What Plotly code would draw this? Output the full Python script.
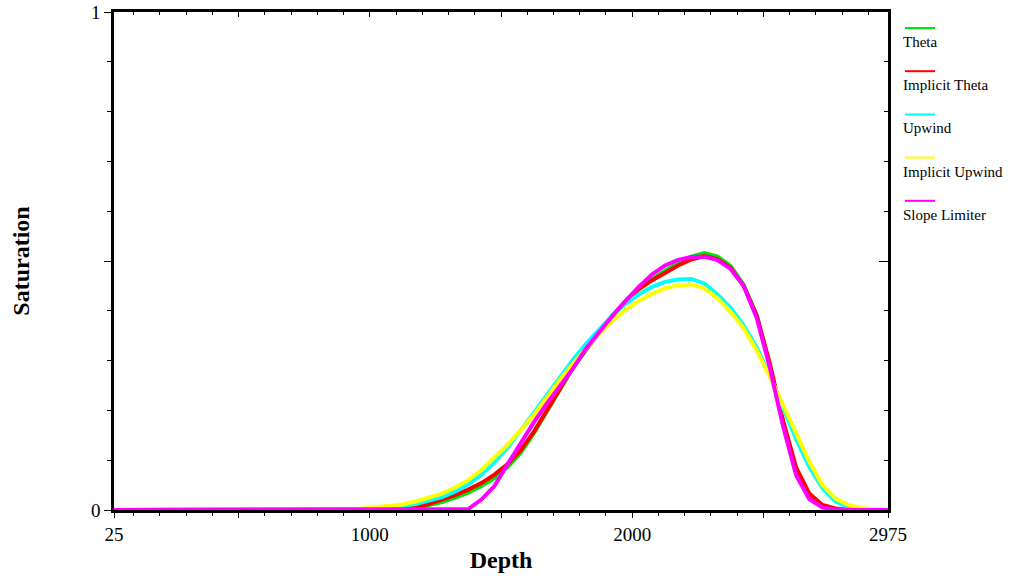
import plotly.graph_objects as go

# cell-centre depths, 50 ft cells
depth = list(range(25, 3000, 50))

names = ["Theta", "Implicit Theta", "Upwind", "Implicit Upwind", "Slope Limiter"]
colors = ["#00e600", "#ff0000", "#00ffff", "#ffff00", "#ff00ff"]

theta = [
    0, 0, 0, 0, 0, 0, 0, 0, 0, 0,
    0, 0, 0, 0, 0, 0, 0, 0, 0, 0,
    0, 0, 0.001, 0.004, 0.009, 0.016, 0.025, 0.035, 0.048, 0.064,
    0.086, 0.115, 0.154, 0.197, 0.243, 0.286, 0.322, 0.357, 0.39, 0.42,
    0.444, 0.464, 0.48, 0.496, 0.509, 0.516, 0.509, 0.49, 0.452, 0.39,
    0.29, 0.172, 0.072, 0.024, 0.007, 0.0015, 0, 0, 0, 0,
]
implicit_theta = [
    0, 0, 0, 0, 0, 0, 0, 0, 0, 0,
    0, 0, 0, 0, 0, 0, 0, 0, 0, 0,
    0, 0.001, 0.003, 0.006, 0.012, 0.02, 0.03, 0.041, 0.054, 0.071,
    0.092, 0.12, 0.157, 0.2, 0.245, 0.287, 0.323, 0.358, 0.39, 0.419,
    0.443, 0.461, 0.476, 0.491, 0.503, 0.51, 0.504, 0.486, 0.45, 0.39,
    0.293, 0.18, 0.085, 0.033, 0.01, 0.003, 0, 0, 0, 0,
]
upwind = [
    0, 0, 0, 0, 0, 0, 0, 0, 0, 0,
    0, 0, 0, 0, 0, 0, 0, 0, 0.001, 0.0015,
    0.003, 0.005, 0.008, 0.012, 0.018, 0.026, 0.037, 0.051, 0.071, 0.096,
    0.125, 0.159, 0.195, 0.231, 0.268, 0.302, 0.334, 0.364, 0.391, 0.414,
    0.433, 0.448, 0.458, 0.463, 0.464, 0.455, 0.433, 0.406, 0.371, 0.326,
    0.27, 0.205, 0.142, 0.087, 0.044, 0.017, 0.006, 0.0015, 0, 0,
]
implicit_upwind = [
    0, 0, 0, 0, 0, 0, 0, 0, 0, 0,
    0, 0, 0, 0, 0, 0, 0, 0.001, 0.0015, 0.003,
    0.005, 0.0075, 0.011, 0.017, 0.024, 0.033, 0.045, 0.06, 0.08, 0.105,
    0.131, 0.16, 0.191, 0.226, 0.262, 0.294, 0.325, 0.354, 0.38, 0.402,
    0.42, 0.434, 0.445, 0.451, 0.453, 0.445, 0.425, 0.398, 0.365, 0.32,
    0.268, 0.21, 0.152, 0.097, 0.05, 0.023, 0.01, 0.004, 0.001, 0,
]
slope_limiter = [
    0, 0, 0, 0, 0, 0, 0, 0, 0, 0,
    0, 0, 0, 0, 0, 0, 0, 0, 0, 0,
    0, 0, 0, 0, 0, 0, 0, 0.002, 0.021, 0.048,
    0.092, 0.135, 0.176, 0.214, 0.25, 0.285, 0.325, 0.358, 0.39, 0.42,
    0.448, 0.473, 0.491, 0.502, 0.508, 0.509, 0.502, 0.484, 0.45, 0.385,
    0.285, 0.168, 0.07, 0.022, 0.005, 0.001, 0, 0, 0, 0,
]
series = [theta, implicit_theta, upwind, implicit_upwind, slope_limiter]

x_tickvals = [25, 500, 1000, 1500, 2000, 2500, 2975]
x_ticktext = ["25", "", "1000", "", "2000", "", "2975"]
y_tickvals = [0, 0.5, 1]
y_ticktext = ["0", "", "1"]

W, H = 1012, 578
L, R, T, B = 114, 124, 12, 68
FONT = "Liberation Serif"


def px_x(px):
    return (px - L) / (W - L - R)


def px_y(py):
    return (H - B - py) / (H - T - B)


fig = go.Figure()
for name, vals, col in zip(names, series, colors):
    fig.add_trace(go.Scatter(x=depth, y=vals, mode="lines", name=name,
                             line=dict(color=col, width=4), showlegend=False))

# empty trace so the overlay axes (inside ticks on top / right) get drawn
fig.add_trace(go.Scatter(x=[], y=[], xaxis="x2", yaxis="y2", showlegend=False,
                         hoverinfo="skip"))

# legend drawn by hand: short line above each label
shapes = []
annotations = []
for i, (name, col) in enumerate(zip(names, colors)):
    ly = 28 + 43.2 * i
    shapes.append(dict(type="line", xref="paper", yref="paper",
                       x0=px_x(905), x1=px_x(935), y0=px_y(ly), y1=px_y(ly),
                       line=dict(color=col, width=2)))
    annotations.append(dict(text=name, xref="paper", yref="paper",
                            x=px_x(901), y=px_y(ly + 14), xanchor="left",
                            yanchor="middle", showarrow=False,
                            font=dict(family=FONT, size=15, color="black")))

fig.update_layout(
    width=W, height=H,
    margin=dict(l=L, r=R, t=T, b=B),
    plot_bgcolor="white", paper_bgcolor="white",
    font=dict(family=FONT, color="black"),
    shapes=shapes, annotations=annotations,
    xaxis=dict(
        range=[25, 2975], showgrid=False, zeroline=False, automargin=False,
        showline=True, linecolor="black", linewidth=2.5, mirror=True,
        ticks="outside", tickvals=x_tickvals, ticktext=x_ticktext,
        ticklen=5, tickwidth=1, tickcolor="black",
        minor=dict(ticks="outside", dtick=100, tick0=0, ticklen=3,
                   tickwidth=1, tickcolor="black"),
        tickfont=dict(family=FONT, size=19),
        title=dict(text="<b>Depth</b>", font=dict(family=FONT, size=24),
                   standoff=8),
    ),
    yaxis=dict(
        range=[0, 1], showgrid=False, zeroline=False, automargin=False,
        showline=True, linecolor="black", linewidth=2.5, mirror=True,
        ticks="outside", tickvals=y_tickvals, ticktext=y_ticktext,
        ticklen=7, tickwidth=1, tickcolor="black",
        minor=dict(ticks="outside", dtick=0.1, tick0=0, ticklen=4,
                   tickwidth=1, tickcolor="black"),
        tickfont=dict(family=FONT, size=19),
        title=dict(text="<b>Saturation</b>", font=dict(family=FONT, size=24),
                   standoff=55),
    ),
    xaxis2=dict(
        range=[25, 2975], overlaying="x", side="top", anchor="y2",
        automargin=False,
        showgrid=False, zeroline=False, showline=False, showticklabels=False,
        ticks="inside", tickvals=x_tickvals, ticklen=5, tickcolor="black",
        minor=dict(ticks="inside", dtick=100, tick0=0, ticklen=3,
                   tickcolor="black"),
    ),
    yaxis2=dict(
        range=[0, 1], overlaying="y", side="right", anchor="x2",
        automargin=False,
        showgrid=False, zeroline=False, showline=False, showticklabels=False,
        ticks="inside", tickvals=y_tickvals, ticklen=9, tickcolor="black",
        minor=dict(ticks="inside", dtick=0.1, tick0=0, ticklen=4,
                   tickcolor="black"),
    ),
)

# drop the page's default body margin so the figure sits at (0, 0)
fig.write_html("out.html", config={"displayModeBar": False},
               post_script="document.body.style.margin='0';"
                           "document.body.style.overflow='hidden';")
